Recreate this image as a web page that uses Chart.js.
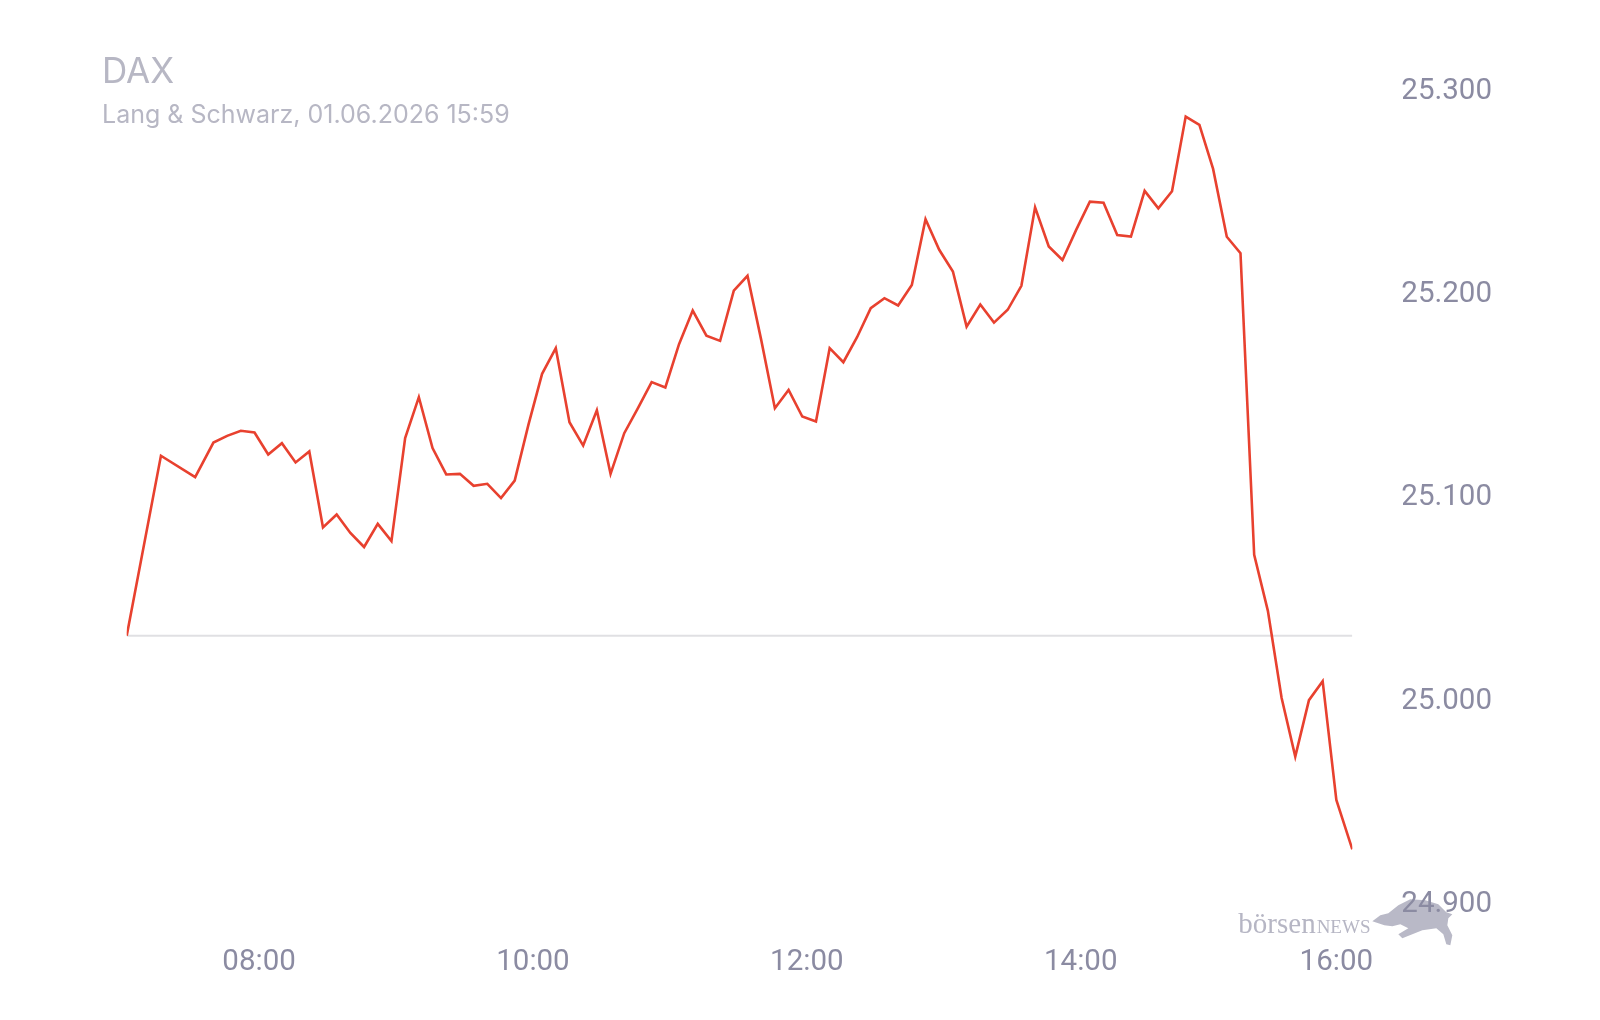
<!DOCTYPE html>
<html>
<head>
<meta charset="utf-8">
<script src="https://cdn.jsdelivr.net/npm/chart.js@4/dist/chart.umd.min.js"></script>
<style>
  html, body { margin: 0; padding: 0; background: #ffffff; }
  #wrap { position: relative; width: 1600px; height: 1020px; }
  canvas { display: block; }
</style>
</head>
<body>
<div id="wrap"><canvas id="c" width="1600" height="1020"></canvas></div>
<script>
// ---- Data ----
const chartTitle = 'DAX';
const chartSubtitle = 'Lang & Schwarz, 01.06.2026 15:59';

const times = [
  '07:02','07:17','07:32','07:40','07:46','07:52','07:58',
  '08:04','08:10','08:16','08:22','08:28','08:34','08:40','08:46','08:52','08:58',
  '09:04','09:10','09:16','09:22','09:28','09:34','09:40','09:46','09:52','09:58',
  '10:04','10:10','10:16','10:22','10:28','10:34','10:40','10:46','10:52','10:58',
  '11:04','11:10','11:16','11:22','11:28','11:34','11:40','11:46','11:52','11:58',
  '12:04','12:10','12:16','12:22','12:28','12:34','12:40','12:46','12:52','12:58',
  '13:04','13:10','13:16','13:22','13:28','13:34','13:40','13:46','13:52','13:58',
  '14:04','14:10','14:16','14:22','14:28','14:34','14:40','14:46','14:52','14:58',
  '15:04','15:10','15:16','15:22','15:28','15:34','15:40','15:46','15:52','15:59'
];

const prices = [
  25032.3, 25120.8, 25110.3, 25127.3, 25130.6, 25133.1, 25132.2,
  25121.4, 25127.0, 25117.5, 25122.9, 25085.5, 25091.9, 25082.8, 25075.9, 25087.3, 25078.8,
  25129.5, 25149.6, 25124.6, 25111.6, 25111.9, 25106.0, 25107.0, 25100.0, 25108.6, 25136.0,
  25161.1, 25173.7, 25137.3, 25125.8, 25143.2, 25111.9, 25131.9, 25144.2, 25157.0, 25154.4,
  25175.7, 25192.2, 25179.9, 25177.3, 25202.0, 25209.3, 25177.8, 25144.2, 25153.2, 25140.1,
  25137.6, 25173.7, 25166.8, 25179.1, 25193.4, 25198.3, 25194.7, 25204.8, 25237.1, 25222.1,
  25211.4, 25184.3, 25195.2, 25186.3, 25192.6, 25204.4, 25243.0, 25223.7, 25217.1, 25231.9,
  25245.8, 25245.3, 25229.4, 25228.6, 25251.1, 25242.5, 25250.9, 25287.6, 25283.5, 25261.9,
  25228.5, 25220.4, 25072.1, 25044.5, 25001.8, 24972.8, 25000.6, 25009.9, 24951.5, 24927.2
];

const previousClose = 25032.3;

const xTickTimes  = ['08:00', '10:00', '12:00', '14:00', '15:52'];
const xTickLabels = ['08:00', '10:00', '12:00', '14:00', '16:00'];
const yTickValues = [24900, 25000, 25100, 25200, 25300];

const yMin = 24880;
const yMax = 25310;

// ---- helpers ----
function toMin(t) { const p = t.split(':'); return (+p[0]) * 60 + (+p[1]); }
function fmtDe(v) {
  const th = Math.floor(v / 1000);
  const rest = String(Math.round(v % 1000)).padStart(3, '0');
  return th + '.' + rest;
}

const linePoints = times.map((t, i) => ({ x: toMin(t), y: prices[i] }));
const firstT = toMin(times[0]);
const lastT = toMin(times[times.length - 1]);
const basePoints = [{ x: firstT, y: previousClose }, { x: lastT, y: previousClose }];

const TEXT_GREY = '#b7b7c4';
const AXIS_GREY = '#8b8ba2';

// Title / subtitle / watermark drawn on the canvas
const decorPlugin = {
  id: 'decor',
  beforeDraw(chart) {
    const ctx = chart.ctx;
    const a = chart.chartArea;
    ctx.save();
    // watermark logo text
    ctx.fillStyle = '#b6b6c4';
    ctx.textBaseline = 'alphabetic';
    ctx.textAlign = 'left';
    const bx = a.right - 114, by = a.bottom - 12;
    ctx.font = '29px "Liberation Serif", "DejaVu Serif", serif';
    ctx.fillText('börsen', bx, by);
    const w1 = ctx.measureText('börsen').width;
    ctx.font = '19px "Liberation Serif", "DejaVu Serif", serif';
    ctx.fillText('NEWS', bx + w1 + 1, by);
    // bull silhouette (decorative)
    const ox = a.right + 20, oy = a.bottom - 25;
    const bull = [
      [0,1],[8,-5],[16,-7],[26,-15],[38,-21],[53,-20],[66,-16],[74,-8],[80,-6],[76,-2],
      [75,5],[80,15],[78,25],[74,24],[71,14],[64,8],[50,10],[40,14],[30,18],[26,14],
      [36,8],[28,4],[20,6],[12,5],[6,3]
    ];
    ctx.beginPath();
    bull.forEach((p, i) => { if (i === 0) ctx.moveTo(ox + p[0], oy + p[1]); else ctx.lineTo(ox + p[0], oy + p[1]); });
    ctx.closePath();
    ctx.fillStyle = '#b9b9c7';
    ctx.fill();
    ctx.restore();
  },
  afterDraw(chart) {
    const ctx = chart.ctx;
    ctx.save();
    ctx.fillStyle = TEXT_GREY;
    ctx.textAlign = 'left';
    ctx.textBaseline = 'alphabetic';
    ctx.font = '35px Inter, Roboto, sans-serif';
    ctx.fillText(chartTitle, 102, 83);
    ctx.font = '25px Inter, Roboto, sans-serif';
    ctx.fillText(chartSubtitle, 102, 123);
    ctx.restore();
  }
};

new Chart(document.getElementById('c'), {
  type: 'line',
  data: {
    datasets: [
      {
        label: 'DAX',
        data: linePoints,
        borderColor: '#e8412f',
        borderWidth: 2.6,
        pointRadius: 0,
        tension: 0,
        fill: false,
        order: 1
      },
      {
        label: 'Vortag',
        data: basePoints,
        borderColor: '#e0e0e3',
        borderWidth: 2,
        pointRadius: 0,
        fill: false,
        order: 2
      }
    ]
  },
  options: {
    responsive: false,
    devicePixelRatio: 1,
    animation: false,
    events: [],
    layout: { padding: { left: 126.7, right: 59, top: 71.1, bottom: 39.3 } },
    plugins: {
      legend: { display: false },
      tooltip: { enabled: false },
      title: { display: false }
    },
    scales: {
      x: {
        type: 'linear',
        min: firstT,
        max: lastT,
        grid: { display: false, drawTicks: false },
        border: { display: false },
        afterBuildTicks(scale) { scale.ticks = xTickTimes.map(t => ({ value: toMin(t) })); },
        ticks: {
          autoSkip: false,
          maxRotation: 0,
          padding: 0,
          color: AXIS_GREY,
          font: { family: 'Roboto', size: 29.5 },
          callback: (v, i) => xTickLabels[i]
        }
      },
      y: {
        type: 'linear',
        position: 'right',
        min: yMin,
        max: yMax,
        grid: { display: false, drawTicks: false },
        border: { display: false },
        afterBuildTicks(scale) { scale.ticks = yTickValues.map(v => ({ value: v })); },
        ticks: {
          padding: 49,
          color: AXIS_GREY,
          font: { family: 'Roboto', size: 29.5 },
          callback: v => fmtDe(v)
        }
      }
    }
  },
  plugins: [decorPlugin]
});
</script>
</body>
</html>
